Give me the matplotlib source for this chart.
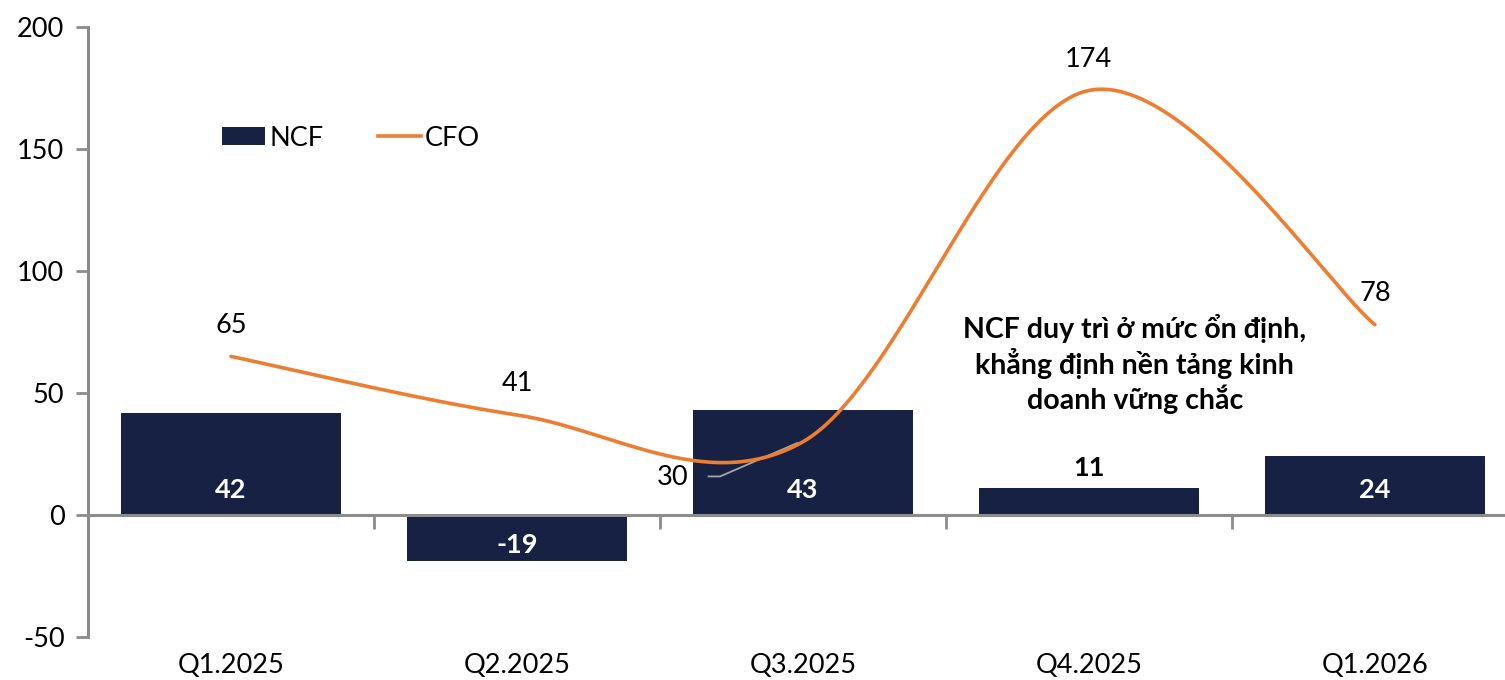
import numpy as np
import matplotlib.pyplot as plt
from matplotlib.patches import Patch
from matplotlib.lines import Line2D
from matplotlib.transforms import blended_transform_factory

plt.rcParams['font.family'] = ['Lato', 'Noto Sans', 'DejaVu Sans']
plt.rcParams['axes.unicode_minus'] = False

quarters = ["Q1.2025", "Q2.2025", "Q3.2025", "Q4.2025", "Q1.2026"]
ncf = [42, -19, 43, 11, 24]
cfo = [65, 41, 30, 174, 78]
note = "NCF duy trì ở mức ổn định,\nkhẳng định nền tảng kinh\ndoanh vững chắc"

NAVY = "#172143"
ORANGE = "#ED7D31"
GRAY = "#8C8C8C"
FS = 19.5


def excel_smooth(xs, ys, sx, sy, n=60):
    # Bezier smoothing like Excel's "smoothed line", done in pixel-like scale
    px = np.asarray(xs, float) * sx
    py = np.asarray(ys, float) * sy
    pts = np.column_stack([px, py])
    out = []
    for i in range(len(pts) - 1):
        p0 = pts[max(i - 1, 0)]
        p1 = pts[i]
        p2 = pts[i + 1]
        p3 = pts[min(i + 2, len(pts) - 1)]
        c1 = p1 + (p2 - p0) / 6.0
        c2 = p2 - (p3 - p1) / 6.0
        t = np.linspace(0, 1, n)[:, None]
        seg = ((1 - t) ** 3) * p1 + 3 * ((1 - t) ** 2) * t * c1 + 3 * (1 - t) * t ** 2 * c2 + t ** 3 * p2
        out.append(seg if i == 0 else seg[1:])
    curve = np.vstack(out)
    return curve[:, 0] / sx, curve[:, 1] / sy


fig = plt.figure(figsize=(15.05, 6.8), dpi=100)
ax = fig.add_axes([88 / 1505, 43 / 680, 1417 / 1505, 610 / 680])

x = np.arange(len(quarters))
ax.bar(x, ncf, width=0.77, color=NAVY, zorder=2)

cx, cy = excel_smooth(x, cfo, 286.0, 2.44)
ax.plot(cx, cy, color=ORANGE, lw=2.6, zorder=4, solid_capstyle="round")

ax.set_xlim(-0.5, 4.455)
ax.set_ylim(-50, 200)
ax.set_yticks(np.arange(-50, 201, 50))

for side in ["top", "right"]:
    ax.spines[side].set_visible(False)
ax.spines["bottom"].set_position(("data", 0))
for side in ["left", "bottom"]:
    ax.spines[side].set_color(GRAY)
    ax.spines[side].set_linewidth(2.2)

ax.set_xticks(np.arange(0.5, len(quarters) - 0.5, 1.0))
ax.set_xticklabels([])
ax.tick_params(axis="x", direction="out", length=10, width=2, color=GRAY)
ax.tick_params(axis="y", direction="out", length=9, width=2, color=GRAY,
               labelsize=FS, pad=8)

trans = blended_transform_factory(ax.transData, ax.transAxes)
for i, q in enumerate(quarters):
    ax.text(i, -0.046, q, transform=trans, ha="center", va="center", fontsize=FS)

# bar value labels
for i, v in enumerate(ncf):
    if v < 0:
        ax.annotate(f"{v}", (i, 0), xytext=(0, -30), textcoords="offset pixels",
                    ha="center", va="center", color="white", fontsize=FS,
                    fontweight="bold", zorder=5)
    elif v < 15:
        ax.annotate(f"{v}", (i, v), xytext=(0, 20), textcoords="offset pixels",
                    ha="center", va="center", color="black", fontsize=FS,
                    fontweight="bold", zorder=5)
    else:
        ax.annotate(f"{v}", (i, 0), xytext=(0, 25), textcoords="offset pixels",
                    ha="center", va="center", color="white", fontsize=FS,
                    fontweight="bold", zorder=5)

# line value labels
for i, v in enumerate(cfo):
    if i == 2:
        ax.annotate(f"{v}", (i, v), xytext=(-130, -36), textcoords="offset pixels",
                    ha="center", va="center", fontsize=FS, zorder=5)
        ax.plot([i - 0.33, i - 0.29, i - 0.02], [v - 14.2, v - 14.2, v - 0.5],
                color="#A6A6A6", lw=1.3, zorder=3)
    else:
        ax.annotate(f"{v}", (i, v), xytext=(0, 31), textcoords="offset pixels",
                    ha="center", va="center", fontsize=FS, zorder=5)

ax.text(3.16, 62, note, ha="center", va="center", fontsize=20.5,
        fontweight="bold", linespacing=1.2, zorder=5)

handles = [Patch(facecolor=NAVY, edgecolor="none"),
           Line2D([0], [0], color=ORANGE, lw=2.6)]
ax.legend(handles, ["NCF", "CFO"], loc="center left", bbox_to_anchor=(0.085, 0.818),
          ncol=2, frameon=False, fontsize=FS, borderpad=0, handlelength=1.6,
          handleheight=0.65, handletextpad=0.15, columnspacing=2.0)

fig.savefig("out.png", dpi=100)
